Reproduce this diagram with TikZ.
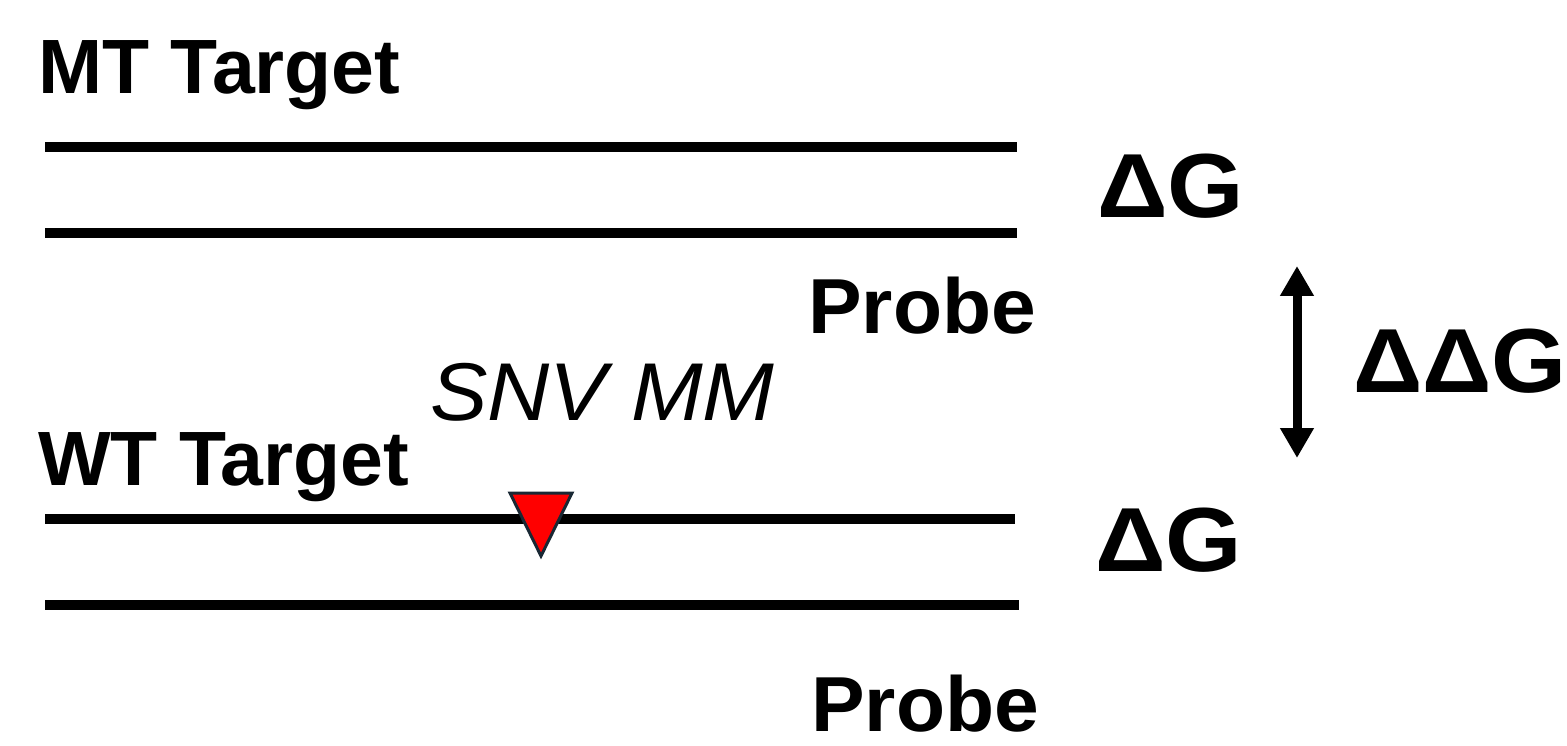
\documentclass[tikz,border=0pt]{standalone}
\usepackage{fontspec}
\setmainfont{Liberation Sans}
\usetikzlibrary{arrows.meta}
\definecolor{snvred}{RGB}{255,0,0}
\definecolor{snvedge}{RGB}{25,40,52}
\newcommand{\widen}[2]{\scalebox{#1}[1]{#2}}
\tikzset{
  strand/.style={line width=10pt},
  biglabel/.style={inner sep=0pt, anchor=base west, font=\fontsize{77}{88}\selectfont\bfseries},
  energy/.style={inner sep=0pt, anchor=base west, font=\fontsize{91}{104}\selectfont\bfseries},
  probelabel/.style={inner sep=0pt, anchor=base west, font=\fontsize{78}{90}\selectfont\bfseries},
}
\begin{document}
\begin{tikzpicture}[x=1pt,y=-1pt]
  \useasboundingbox (0,0) rectangle (1567,746);
  % mutant target / probe duplex
  \node[biglabel] (mtlabel) at (38,94) {MT Target};
  \coordinate (mt1a) at (45,147);  \coordinate (mt1b) at (1017,147);
  \coordinate (mt2a) at (45,233);  \coordinate (mt2b) at (1017,233);
  \draw[strand] (mt1a) -- (mt1b);
  \draw[strand] (mt2a) -- (mt2b);
  \node[energy] (dgtop) at (1097,218) {\widen{1.08}{ΔG}};
  \node[probelabel] (probetop) at (808,333) {\widen{1.03}{Probe}};
  % wild-type target / probe duplex
  \node[font=\fontsize{82}{94}\selectfont\itshape, inner sep=0pt, anchor=base west] (snv) at (430,420) {\widen{1.05}{SNV MM}};
  \node[biglabel] (wtlabel) at (38,485) {WT Target};
  \coordinate (wt1a) at (45,519);  \coordinate (wt1b) at (1015,519);
  \coordinate (wt2a) at (45,605);  \coordinate (wt2b) at (1019,605);
  \draw[strand] (wt1a) -- (wt1b);
  \draw[strand] (wt2a) -- (wt2b);
  \node[energy] (dgbot) at (1095,571) {\widen{1.08}{ΔG}};
  \node[probelabel] (probebot) at (811,731) {\widen{1.03}{Probe}};
  % mismatch marker
  \draw[fill=snvred, draw=snvedge, line width=3pt, line join=miter]
    (510,493) -- (572,493) -- (541,556) -- cycle;
  % difference in free energy
  \coordinate (arrtop) at (1297,266);
  \coordinate (arrbot) at (1297,458);
  \draw[line width=9pt, {Triangle[width=32pt,length=30pt]}-{Triangle[width=32pt,length=30pt]}] (arrtop) -- (arrbot);
  \node[energy] (ddg) at (1353,392) {\widen{1.06}{ΔΔG}};
\end{tikzpicture}
\end{document}
